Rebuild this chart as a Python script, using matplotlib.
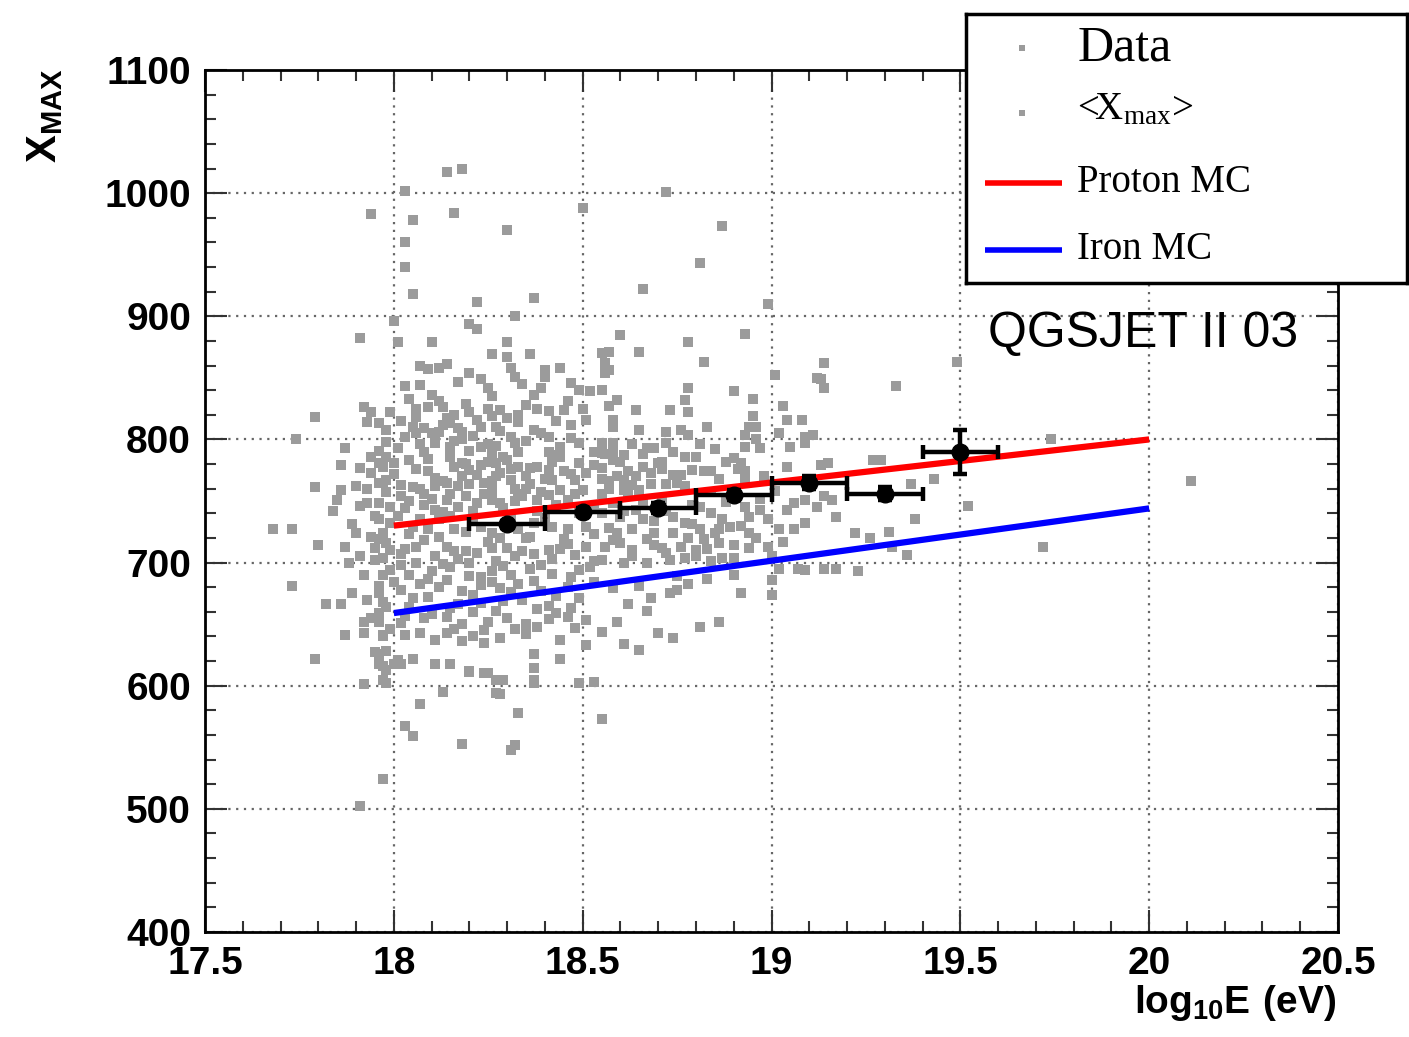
import numpy as np
import matplotlib
matplotlib.use('Agg')
import matplotlib.pyplot as plt
from matplotlib.ticker import MultipleLocator

plt.rcParams['font.family'] = ['Liberation Sans', 'DejaVu Sans']
plt.rcParams['mathtext.fontset'] = 'custom'
plt.rcParams['mathtext.bf'] = 'Liberation Sans:bold'
plt.rcParams['mathtext.rm'] = 'Liberation Sans:bold'

# Data: individual events (log10 E, Xmax)
#==========================================================
data_logE = [
    # high outliers
    18.14, 18.18, 18.03, 17.94, 18.05, 18.16, 18.30, 18.03, 18.03, 18.05, 18.22, 18.37, 18.32,
    17.91, 17.79, 17.74, 17.92, 17.94, 17.93, 17.87,
    18.72, 18.50, 18.87, 18.81, 18.66, 18.99, 19.14, 19.13, 19.14,
    # core, upper left
    18.00, 18.10, 18.20, 18.22, 18.30, 18.26, 18.30, 18.36, 18.01, 18.07, 18.09, 18.12, 18.14,
    18.20, 18.17, 18.23, 18.31, 18.32, 18.34, 18.40, 18.40, 18.44, 18.47, 18.49, 18.52, 18.50,
    18.03, 18.04, 18.07, 18.10, 18.12, 18.06, 18.13, 18.20, 18.25, 18.26, 18.25, 18.26, 18.30,
    18.33, 18.33, 18.37, 18.38, 18.41, 18.45, 18.39, 17.96, 17.98, 18.05, 18.06, 18.08, 18.14,
    18.15, 18.10, 18.11, 18.17, 18.18, 18.18, 18.23, 18.27, 18.28, 18.31, 18.37, 18.41, 18.47,
    18.51, 17.96, 17.98, 18.01, 18.07, 18.11, 18.15, 18.20, 18.23, 18.26, 18.27, 18.32, 18.33,
    18.41, 18.44, 18.49, 17.97, 18.00, 18.04, 18.09, 18.11, 18.15, 18.16, 18.18, 18.20, 18.23,
    18.25, 18.27, 18.28, 18.31, 18.33, 18.35, 18.38, 18.41, 18.42, 18.45, 18.49, 18.51, 17.98,
    18.02, 18.05, 18.08, 18.11, 18.14, 18.15, 18.18, 18.20, 18.24, 18.26, 18.27, 18.31, 18.32,
    18.33, 18.36, 18.39, 18.42, 18.44, 18.48, 18.50, 17.96, 17.99, 18.02, 18.04, 18.08, 18.11,
    18.14, 18.17, 18.19, 18.22, 18.26, 18.28, 18.32, 18.34, 18.38, 18.41, 18.46, 17.96, 17.99,
    18.05, 18.09, 18.12, 18.16, 18.23, 18.26, 18.33, 18.37, 18.42, 18.46, 18.51,
    # core, upper right
    18.60, 18.78, 18.93, 18.65, 18.57, 18.55, 18.56, 18.57, 18.56, 18.82, 19.01, 19.12, 18.55,
    18.78, 18.90, 18.95, 18.59, 18.57, 18.77, 18.78, 18.64, 18.73, 19.03, 18.95, 19.04, 19.08,
    18.58, 18.58, 18.65, 18.72, 18.76, 18.78, 18.83, 18.94, 18.96, 18.93, 19.02, 19.09, 19.11,
    18.55, 18.58, 18.58, 18.67, 18.69, 18.72, 18.81, 18.93, 18.97, 19.05, 19.09, 18.55, 18.61,
    18.58, 18.66, 18.68, 18.71, 18.77, 18.88, 18.92, 18.93, 18.55, 18.55, 18.59, 18.61, 18.64,
    18.63, 18.74, 18.76, 18.82, 18.84, 18.93, 18.57, 18.61, 18.65, 18.72, 18.77, 18.55, 18.55,
    18.60, 18.64, 18.66, 18.74, 18.77, 18.81, 18.84, 18.87, 18.89, 18.93, 18.94, 18.97, 19.04,
    19.06, 19.09, 19.12, 19.09, 19.02, 19.06, 18.59, 18.63, 18.69, 18.74, 18.81, 18.85, 18.94,
    19.15, 19.13, 19.17, 19.22, 19.14, 19.16,
    # core, lower left
    17.98, 18.03, 18.08, 18.14, 18.19, 18.25, 18.30, 18.35, 18.41, 18.46, 18.51,
    17.97, 18.02, 18.06, 18.11, 18.17, 18.22, 18.27, 18.32, 18.37, 18.42, 18.48, 18.53,
    17.99, 18.04, 18.10, 18.15, 18.20, 18.26, 18.31, 18.36, 18.42, 18.49,
    17.96, 18.02, 18.07, 18.12, 18.18, 18.23, 18.28, 18.33, 18.39, 18.46,
    17.97, 18.05, 18.17, 18.23, 18.29, 18.34, 18.41, 18.49,
    17.96, 18.02, 18.08, 18.14, 18.18, 18.25, 18.30, 18.35, 18.41, 18.46, 18.51,
    17.97, 18.03, 18.11, 18.14, 18.18, 18.21, 18.24, 18.28, 18.35, 18.44, 18.51,
    17.96, 18.01, 18.05, 18.11, 18.15, 18.37, 18.44,
    17.97, 18.02, 18.20, 18.24, 18.27, 18.29, 18.37, 18.37, 18.27, 17.98, 18.49, 18.53,
    # core, lower right
    18.56, 18.60, 18.63, 18.69, 18.72, 18.76, 18.80, 18.86, 18.90, 18.94, 18.99, 18.55, 18.61,
    18.67, 18.73, 18.77, 18.80, 18.84, 18.90, 19.02, 19.07, 19.09, 19.14, 19.17, 19.23, 19.00,
    19.00, 18.90, 18.92, 18.58, 18.65, 18.75, 18.78, 18.83, 18.73, 18.75, 18.68, 18.62, 18.67,
    18.59, 18.55, 18.70, 18.74, 18.81, 18.86, 18.61, 18.65,
    # left wing
    17.79, 17.86, 17.85, 17.68, 17.73, 17.80, 17.87, 17.73, 17.82, 17.86, 17.87, 17.92, 17.97,
    17.92, 17.96, 17.79, 17.95, 17.92, 17.97, 17.97, 17.86, 17.91, 17.94, 17.96, 17.90, 17.93,
    17.91, 17.89, 17.90, 17.94, 17.96, 17.91, 17.95, 17.89, 17.93, 17.96, 17.96, 17.98, 17.96,
    17.98, 18.00, 17.94, 17.96, 17.91,
    # low tail
    18.07, 18.03, 18.05, 18.18, 18.32, 18.31, 18.33, 18.28, 18.13, 18.37, 18.37, 18.20, 18.25,
    18.27, 18.29, 18.37, 18.55,
    # high energy
    19.49, 19.33, 19.74, 19.27, 19.29, 19.43, 19.37, 20.11, 19.52, 19.38, 19.31, 19.26, 19.32,
    19.36, 19.72,
]
data_xmax = [
    1017, 1020, 1002, 983, 978, 984, 970, 960, 940, 918, 912, 915, 900,
    882, 818, 800, 826, 822, 814, 793,
    1001, 988, 973, 943, 922, 910, 862, 849, 842,
    896, 879, 894, 890, 879, 869, 867, 869, 879, 860, 857, 858, 861,
    854, 847, 849, 858, 851, 845, 856, 851, 858, 846, 840, 839, 825,
    843, 833, 844, 836, 831, 825, 826, 822, 842, 835, 825, 819, 817,
    820, 814, 836, 825, 823, 824, 842, 813, 808, 810, 805, 809, 817,
    813, 805, 801, 809, 806, 800, 810, 810, 807, 802, 808, 802, 812,
    816, 791, 786, 793, 796, 797, 794, 791, 794, 789, 795, 797, 790,
    790, 794, 797, 778, 781, 783, 774, 769, 786, 778, 781, 775, 779,
    782, 781, 773, 776, 778, 770, 778, 775, 782, 774, 781, 773, 767,
    763, 761, 756, 762, 765, 756, 770, 764, 765, 759, 770, 767, 760,
    756, 764, 757, 767, 759, 767, 759, 748, 745, 754, 750, 747, 743,
    751, 745, 754, 748, 751, 748, 750, 754, 751, 755, 751, 735, 732,
    729, 727, 735, 727, 729, 724, 727, 732, 729, 727, 729,
    885, 879, 886, 871, 871, 870, 862, 856, 854, 863, 852, 850, 840,
    842, 839, 833, 832, 827, 832, 822, 824, 824, 827, 819, 816, 816,
    816, 810, 808, 806, 808, 804, 810, 810, 810, 804, 805, 802, 804,
    797, 797, 790, 793, 793, 797, 796, 794, 793, 794, 797, 789, 787,
    783, 778, 773, 782, 786, 782, 781, 774, 777, 768, 770, 767, 770,
    763, 771, 771, 774, 774, 767, 760, 759, 759, 764, 762, 756, 740,
    737, 743, 735, 737, 732, 745, 740, 735, 729, 745, 737, 743, 743,
    748, 751, 745, 732, 727, 727, 724, 727, 724, 724, 727, 724, 724,
    781, 779, 737, 724, 754, 751,
    716, 711, 718, 713, 709, 717, 712, 720, 710, 715, 713,
    704, 707, 700, 705, 703, 708, 701, 705, 707, 703, 706, 701,
    694, 690, 693, 696, 689, 693, 690, 695, 691, 694,
    681, 678, 683, 680, 677, 682, 679, 683, 677, 680,
    668, 671, 666, 667, 669, 670, 665, 671,
    654, 651, 655, 656, 650, 652, 655, 650, 654, 656, 653,
    640, 641, 637, 643, 636, 640, 635, 639, 642, 637, 633,
    626, 621, 622, 618, 618, 626, 622,
    616, 618, 611, 610, 605, 605, 614, 605, 594, 602, 602, 603,
    713, 716, 710, 714, 708, 713, 710, 716, 714, 712, 713, 702, 700,
    700, 702, 704, 705, 701, 704, 695, 695, 694, 695, 695, 693, 686,
    674, 690, 675, 679, 681, 689, 683, 687, 675, 678, 671, 666, 661,
    652, 644, 643, 639, 648, 652, 634, 629,
    761, 759, 751, 727, 727, 714, 713, 681, 666, 666, 641, 643, 641,
    652, 652, 622, 627, 601, 605, 524, 779, 777, 786, 781, 762, 748,
    746, 731, 724, 721, 719, 705, 702, 675, 670, 675, 659, 664, 618,
    613, 618, 773, 765, 502,
    585, 567, 559, 553, 552, 548, 578, 593, 595, 626, 614, 612, 610,
    605, 605, 602, 573,
    863, 843, 800, 783, 783, 768, 764, 766, 746, 735, 725, 720, 713,
    706, 713,
]

# further events inside the crowded core, read row by row
dense_logE = [
    17.99, 18.02, 18.06, 18.09, 18.13, 18.16, 18.19, 18.22, 18.28, 18.35, 18.43, 18.46,
    17.98, 18.03, 18.08, 18.12, 18.16, 18.21, 18.25, 18.29, 18.35, 18.39, 18.44, 18.47, 18.53,
    18.00, 18.06, 18.09, 18.13, 18.19, 18.22, 18.26, 18.30, 18.36, 18.40, 18.43, 18.47, 18.53,
    17.98, 18.03, 18.07, 18.10, 18.13, 18.17, 18.21, 18.24, 18.29, 18.35, 18.38, 18.43, 18.48, 18.53,
    17.97, 18.01, 18.04, 18.07, 18.12, 18.15, 18.19, 18.21, 18.28, 18.31, 18.36, 18.40, 18.45, 18.49, 18.53,
    17.99, 18.02, 18.06, 18.09, 18.13, 18.16, 18.20, 18.23, 18.26, 18.29, 18.34, 18.39, 18.44, 18.47, 18.52,
    18.00, 18.04, 18.09, 18.14, 18.15, 18.21, 18.26, 18.27, 18.31, 18.37, 18.38, 18.43, 18.47, 18.53,
    17.99, 18.03, 18.07, 18.10, 18.16, 18.21, 18.24, 18.32, 18.38, 18.43, 18.48,
    18.56, 18.60, 18.63, 18.66, 18.70, 18.74, 18.80, 18.85, 18.90, 18.96,
    18.57, 18.62, 18.68, 18.71, 18.75, 18.79, 18.86, 18.91, 18.98, 19.04,
    18.58, 18.62, 18.66, 18.71, 18.79, 18.84, 18.88, 18.97, 19.01,
    18.57, 18.61, 18.69, 18.72, 18.79, 18.82, 18.86, 18.92, 18.99, 19.03,
    18.58, 18.63, 18.67, 18.71, 18.78, 18.83, 18.87, 18.96, 19.00,
    17.93, 17.95, 17.97, 17.88, 17.92, 17.95, 17.97, 17.84, 17.94, 17.98,
]
dense_xmax = [
    822, 815, 818, 826, 812, 820, 829, 816, 824, 828, 815, 831,
    798, 802, 790, 806, 799, 803, 796, 786, 799, 805, 786, 801, 790,
    772, 776, 784, 766, 780, 771, 766, 783, 777, 768, 787, 772, 779,
    757, 744, 760, 752, 741, 762, 742, 756, 744, 760, 742, 747, 756, 746,
    724, 738, 723, 735, 721, 738, 725, 734, 720, 738, 721, 736, 719, 740, 723,
    710, 698, 713, 687, 699, 709, 700, 688, 712, 697, 709, 698, 711, 688, 696,
    684, 664, 672, 686, 663, 674, 684, 661, 676, 685, 662, 673, 663, 684,
    646, 657, 643, 658, 646, 660, 645, 646, 648, 659, 647,
    788, 782, 796, 788, 781, 790, 786, 792, 785, 800,
    766, 774, 764, 776, 765, 775, 768, 776, 770, 778,
    748, 756, 749, 752, 747, 757, 749, 752, 758,
    728, 742, 734, 742, 731, 719, 727, 730, 735, 717,
    718, 705, 719, 712, 720, 711, 704, 720, 705,
    760, 738, 765, 700, 690, 712, 690, 742, 655, 628,
]

# Mean Xmax in energy bins
mean_logE = [18.3, 18.5, 18.7, 18.9, 19.1, 19.3, 19.5]
mean_xmax = [731, 741, 744, 755, 765, 756, 790]
mean_xerr = [0.1, 0.1, 0.1, 0.1, 0.1, 0.1, 0.1]
mean_yerr = [3, 3, 4, 4, 5, 5, 18]

# MC expectations (straight lines)
mc_logE   = [18.0, 20.0]
proton_mc = [730, 800]
iron_mc   = [659, 744]

# Plot
#==========================================================
fig = plt.figure(figsize=(14.09, 10.37), dpi=100)
ax = fig.add_axes([205/1409, 1-932/1037, 1133/1409, 862/1037])

gray = '#9b9b9b'
ax.plot(data_logE, data_xmax, ls='none', marker='s', ms=6.5, mew=0, color=gray, zorder=2)
ax.plot(dense_logE, dense_xmax, ls='none', marker='s', ms=6.5, mew=0, color=gray, zorder=2)
ax.plot(mc_logE, proton_mc, color='#ff0000', lw=4.5, solid_capstyle='butt', zorder=3)
ax.plot(mc_logE, iron_mc, color='#0000ff', lw=4.5, solid_capstyle='butt', zorder=3)
ax.errorbar(mean_logE, mean_xmax, xerr=mean_xerr, yerr=mean_yerr, fmt='o', ms=12,
            color='black', elinewidth=3.2, capsize=5, capthick=3.2, zorder=4)

ax.set_xlim(17.5, 20.5)
ax.set_ylim(400, 1100)
ax.xaxis.set_major_locator(MultipleLocator(0.5))
ax.xaxis.set_minor_locator(MultipleLocator(0.1))
ax.yaxis.set_major_locator(MultipleLocator(100))
ax.yaxis.set_minor_locator(MultipleLocator(20))
ax.xaxis.set_major_formatter(matplotlib.ticker.FuncFormatter(lambda v, p: '{:g}'.format(v)))
ax.tick_params(which='both', direction='in', top=True, right=True, width=1.5, color='#333333')
ax.tick_params(which='major', length=16, labelsize=28, pad=10)
ax.tick_params(which='minor', length=8)
for lab in ax.get_xticklabels() + ax.get_yticklabels():
    lab.set_fontweight('bold')
for sp in ax.spines.values():
    sp.set_linewidth(2)
ax.grid(True, which='major', color='#666666', ls=(0, (1, 2.5)), lw=1.6, zorder=1)
ax.set_axisbelow(True)

ax.text(19.574, 886, 'QGSJET II 03', fontsize=36, ha='left', va='center', color='black', zorder=6)

fig.text(45/1409, 1-68/1037, r'$\mathbf{X_{MAX}}$', fontsize=30, rotation=90, ha='center', va='top')
fig.text(1336/1409, 1-1003/1037, r'$\mathbf{log_{10}E\ (eV)}$', fontsize=28, ha='right', va='center')

# Legend box (ROOT style)
lg = fig.add_axes([966/1409, 1-283/1037, 441/1409, 269/1037])
lg.set_xlim(0, 1)
lg.set_ylim(0, 1)
lg.set_xticks([])
lg.set_yticks([])
for sp in lg.spines.values():
    sp.set_linewidth(2.5)
lg.plot([0.127], [0.874], ls='none', marker='s', ms=4.5, mew=0, color=gray)
lg.plot([0.127], [0.632], ls='none', marker='s', ms=4.5, mew=0, color=gray)
lg.plot([0.043, 0.218], [0.372, 0.372], color='#ff0000', lw=4, solid_capstyle='butt')
lg.plot([0.043, 0.218], [0.123, 0.123], color='#0000ff', lw=4, solid_capstyle='butt')
serif = ['Liberation Serif', 'DejaVu Serif']
lg.text(0.252, 0.874, 'Data', family=serif, fontsize=36, va='center', ha='left')
lg.text(0.252, 0.640, r'<X$_{\mathregular{max}}$>', family=serif, math_fontfamily='stix',
        fontsize=28, va='center', ha='left')
lg.text(0.252, 0.372, 'Proton MC', family=serif, fontsize=28, va='center', ha='left')
lg.text(0.252, 0.123, 'Iron MC', family=serif, fontsize=28, va='center', ha='left')

fig.savefig('out.png', dpi=100)
